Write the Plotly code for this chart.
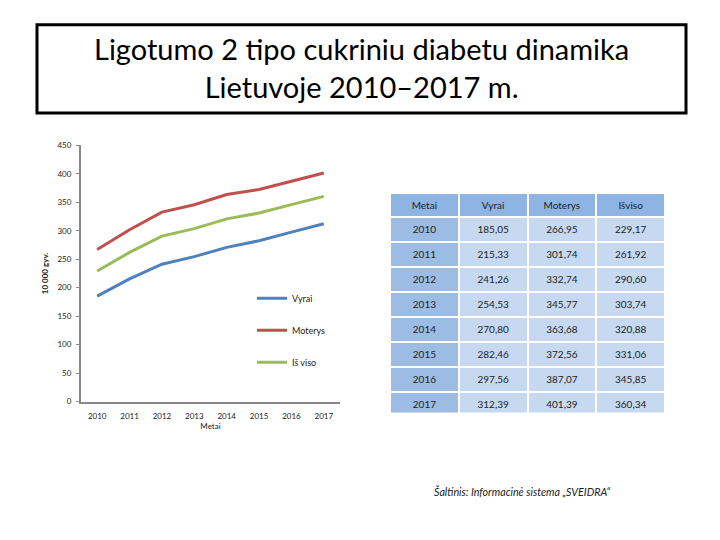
import plotly.graph_objects as go

years = ["2010", "2011", "2012", "2013", "2014", "2015", "2016", "2017"]
vyrai = [185.05, 215.33, 241.26, 254.53, 270.80, 282.46, 297.56, 312.39]
moterys = [266.95, 301.74, 332.74, 345.77, 363.68, 372.56, 387.07, 401.39]
is_viso = [229.17, 261.92, 290.60, 303.74, 320.88, 331.06, 345.85, 360.34]
series_names = ["Vyrai", "Moterys", "Iš viso"]
series_colors = ["#4F81BD", "#C0504D", "#9BBB59"]
y_ticks = [0, 50, 100, 150, 200, 250, 300, 350, 400, 450]
table_headers = ["Metai", "Vyrai", "Moterys", "Išviso"]

def fmt(v):
    return f"{v:.2f}".replace(".", ",")

FONT = "Lato"
fig = go.Figure()
for name, vals, col in zip(series_names, [vyrai, moterys, is_viso], series_colors):
    fig.add_trace(go.Scatter(x=years, y=vals, mode="lines", name=name,
                             legendgroup=name,
                             line=dict(color=col, width=3)))

fig.add_trace(go.Table(
    domain=dict(x=[390/720, 665/720], y=[1-416/540, 1-192/540]),
    columnwidth=[1, 1, 1, 1],
    header=dict(values=table_headers,
                fill_color="#8EB4E3",
                line=dict(color="white", width=2),
                font=dict(family=FONT, size=10, color="#222222"),
                align="center", height=24),
    cells=dict(values=[years,
                       [fmt(v) for v in vyrai],
                       [fmt(v) for v in moterys],
                       [fmt(v) for v in is_viso]],
               fill_color=[["#9DBCE4"]*8, ["#C6D9F1"]*8, ["#C6D9F1"]*8, ["#C6D9F1"]*8],
               line=dict(color="white", width=2),
               font=dict(family=FONT, size=10, color="#222222"),
               align="center", height=25),
))

fig.update_layout(
    width=720, height=540,
    margin=dict(l=0, r=0, t=0, b=0),
    paper_bgcolor="white", plot_bgcolor="white",
    font=dict(family=FONT, color="#222222"),
    xaxis=dict(domain=[81/720, 340/720], type="category", range=[-0.5, 7.5],
               showline=True, linecolor="#888888", linewidth=2,
               showgrid=False, ticks="", tickfont=dict(size=8),
               ticklabelstandoff=6,
               title=dict(text="Metai", font=dict(size=8), standoff=2)),
    yaxis=dict(domain=[1-404/540, 1-143/540], range=[0, 450],
               tickvals=y_ticks, showline=True, linecolor="#888888", linewidth=2,
               showgrid=False, ticks="outside", ticklen=3, tickcolor="#888888",
               tickfont=dict(size=8), zeroline=False, ticklabelstandoff=3,
               title=dict(text="<b>10 000 gyv.</b>", font=dict(size=8), standoff=8)),
    legend=dict(x=252/720, y=1-284/540, xanchor="left", yanchor="top",
                font=dict(size=9), tracegroupgap=13, bgcolor="rgba(0,0,0,0)",
                itemwidth=30),
    showlegend=True,
)

fig.add_shape(type="rect", xref="paper", yref="paper",
              x0=37/720, x1=686/720, y0=1-110/540, y1=1-20/540,
              line=dict(color="black", width=3))
fig.add_annotation(xref="paper", yref="paper", x=361/720, y=1-64/540,
                   text="Ligotumo 2 tipo cukriniu diabetu dinamika<br>Lietuvoje 2010–2017 m.",
                   showarrow=False, font=dict(family=FONT, size=29, color="black"),
                   align="center", xanchor="center", yanchor="middle")
fig.add_annotation(xref="paper", yref="paper", x=432/720, y=1-496/540,
                   text="<i>Šaltinis: Informacinė sistema „SVEIDRA“</i>",
                   showarrow=False, font=dict(family=FONT, size=10.7, color="#222222"),
                   xanchor="left", yanchor="middle")

fig.write_html("out.html")
